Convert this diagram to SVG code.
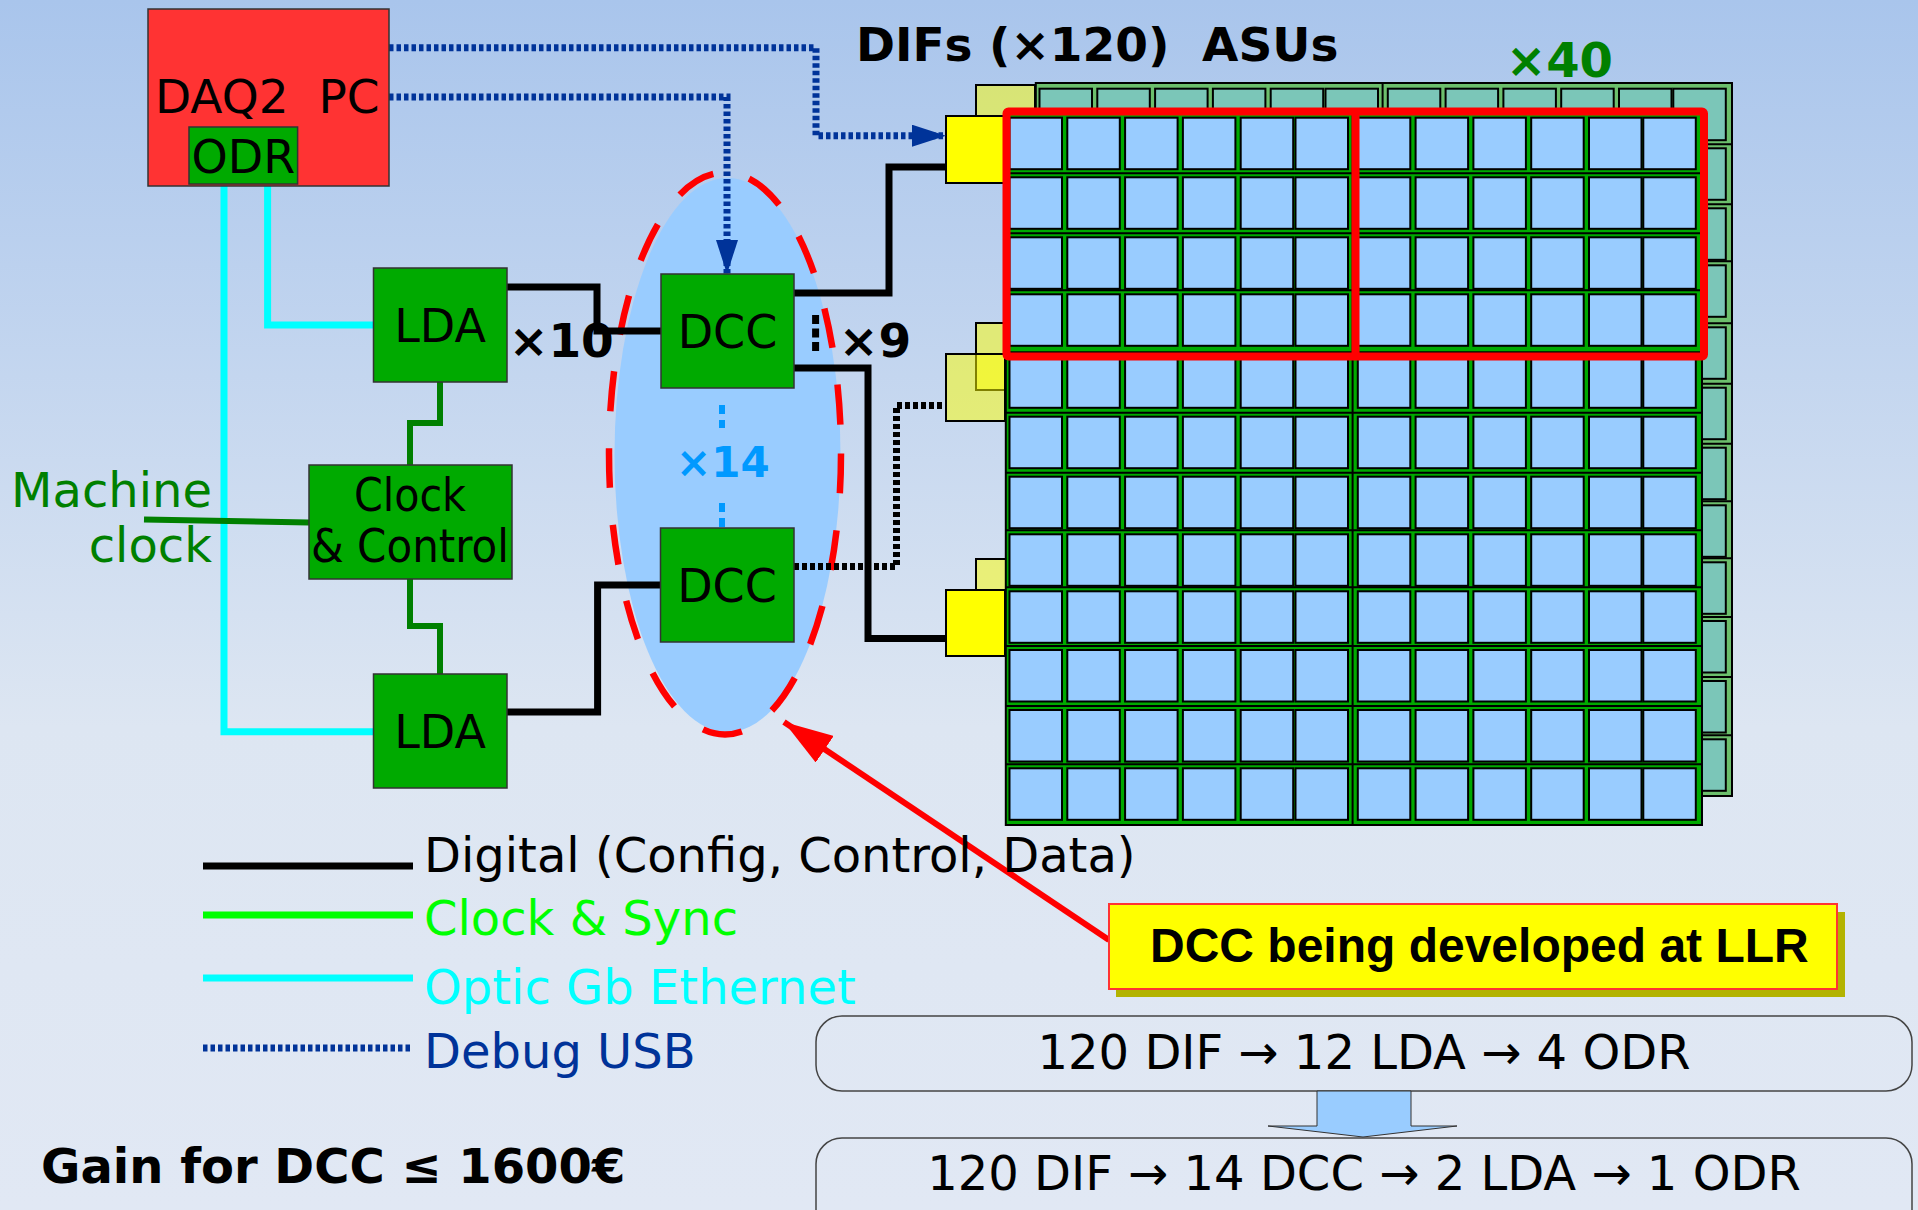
<svg xmlns="http://www.w3.org/2000/svg" xmlns:xlink="http://www.w3.org/1999/xlink" width="1918" height="1210" viewBox="0 0 1918 1210">
<style>
.t{font-family:"DejaVu Sans",sans-serif}
.b{font-weight:bold}
.node{fill:#00aa00;stroke:#333;stroke-width:1.5}
.lbl{font-family:"DejaVu Sans",sans-serif;font-size:46px;fill:#000;text-anchor:middle}
.dig{fill:none;stroke:#000;stroke-width:7;stroke-linejoin:miter}
.opt{fill:none;stroke:#00ffff;stroke-width:7}
.clk{fill:none;stroke:#008000;stroke-width:6}
.usb{fill:none;stroke:#003399;stroke-width:7;stroke-dasharray:4.5 3}
.dot{fill:none;stroke:#000;stroke-width:7;stroke-dasharray:5 3}
.dif{stroke:#000;stroke-width:2}
.cell{stroke:#000;stroke-width:2}
.ml{stroke:#000;stroke-width:2;fill:none}
</style>
<defs>
<linearGradient id="bg" x1="0" y1="0" x2="0" y2="1">
<stop offset="0" stop-color="#a9c5ec"/>
<stop offset="0.6" stop-color="#dde6f2"/>
<stop offset="1" stop-color="#e1e8f4"/>
</linearGradient>
<marker id="ab" markerUnits="userSpaceOnUse" markerWidth="34" markerHeight="22" refX="34" refY="11" orient="auto" viewBox="0 0 34 22">
<path d="M0,0 L34,11 L0,22 z" fill="#003399"/>
</marker>
<marker id="ar" markerUnits="userSpaceOnUse" markerWidth="49" markerHeight="32" refX="49" refY="16" orient="auto" viewBox="0 0 49 32">
<path d="M0,0 L49,16 L0,32 z" fill="#ff0000"/>
</marker>
<g id="row">
<rect class="cell" x="1009.5" y="0" width="52.5" height="51.5"/>
<rect class="cell" x="1067.3" y="0" width="52.5" height="51.5"/>
<rect class="cell" x="1125.1" y="0" width="52.5" height="51.5"/>
<rect class="cell" x="1182.9" y="0" width="52.5" height="51.5"/>
<rect class="cell" x="1240.7" y="0" width="52.5" height="51.5"/>
<rect class="cell" x="1295.5" y="0" width="52.5" height="51.5"/>
<rect class="cell" x="1357.8" y="0" width="52.5" height="51.5"/>
<rect class="cell" x="1415.6" y="0" width="52.5" height="51.5"/>
<rect class="cell" x="1473.4" y="0" width="52.5" height="51.5"/>
<rect class="cell" x="1531.2" y="0" width="52.5" height="51.5"/>
<rect class="cell" x="1589" y="0" width="52.5" height="51.5"/>
<rect class="cell" x="1643.3" y="0" width="52.5" height="51.5"/>
</g>
<g id="cells">
<use xlink:href="#row" y="117.7"/>
<use xlink:href="#row" y="177.3"/>
<use xlink:href="#row" y="237.3"/>
<use xlink:href="#row" y="294.3"/>
<use xlink:href="#row" y="356.3"/>
<use xlink:href="#row" y="416.7"/>
<use xlink:href="#row" y="476.7"/>
<use xlink:href="#row" y="534.3"/>
<use xlink:href="#row" y="591.3"/>
<use xlink:href="#row" y="650"/>
<use xlink:href="#row" y="710"/>
<use xlink:href="#row" y="768.3"/>
</g>
<path id="mlines" class="ml" d="M1005.8,173.3H1702M1005.8,233.3H1702M1005.8,290.3H1702M1005.8,352.3H1702M1005.8,412.7H1702M1005.8,472.7H1702M1005.8,530.3H1702M1005.8,587.3H1702M1005.8,646H1702M1005.8,706H1702M1005.8,764.3H1702M1352.6,112V825"/>
</defs>

<rect x="0" y="0" width="1918" height="1210" fill="url(#bg)"/>

<g id="detector">
<g id="back-difs" fill="#ffff00" fill-opacity="0.5">
<rect class="dif" x="976" y="85" width="59" height="67"/>
<rect class="dif" x="976" y="323" width="59" height="67"/>
<rect class="dif" x="976" y="559" width="59" height="66"/>
</g>
<g id="back-layer" transform="translate(30,-29)">
<rect x="1005.8" y="112" width="696.2" height="713" fill="#6cbf6c" stroke="#000" stroke-width="2"/>
<use xlink:href="#mlines"/>
<use xlink:href="#cells" fill="#7bc6b8"/>
</g>
<g id="front-difs">
<rect class="dif" x="946" y="116" width="59" height="67" fill="#ffff00"/>
<rect class="dif" x="946" y="354" width="59" height="67" fill="#ffff00" fill-opacity="0.5"/>
<rect class="dif" x="946" y="590" width="59" height="66" fill="#ffff00"/>
</g>
<g id="front-layer">
<rect x="1005.8" y="112" width="696.2" height="713" fill="#00aa00" stroke="#000" stroke-width="2"/>
<use xlink:href="#mlines"/>
<use xlink:href="#cells" fill="#99ccff"/>
</g>
<g id="highlight" fill="none" stroke="#ff0000" stroke-width="8" stroke-linejoin="round">
<rect x="1006.5" y="111.5" width="697.5" height="245" rx="2"/>
<path d="M1355.5,111.5V356.5"/>
</g>
<text class="t b" x="856" y="61" font-size="47" xml:space="preserve">DIFs (×120)  ASUs</text>
<text class="t b" x="1506" y="77" font-size="48" fill="#008000">×40</text>
</g>

<g id="dcc-group">
<ellipse cx="727.5" cy="455" rx="113" ry="277" fill="#99ccff"/>
<ellipse cx="725" cy="453.5" rx="116" ry="281" fill="none" stroke="#ff0000" stroke-width="6.5" stroke-dasharray="40 37"/>
</g>

<g id="connectors">
<path class="opt" d="M267.6,186V325H373.5"/>
<path class="opt" d="M224,186V731.7H373.5"/>
<path class="dig" d="M507,287H597V331H661"/>
<path class="dig" d="M507,712H597.6V585H660.5"/>
<path class="dig" d="M794,293H889V167H946"/>
<path class="dig" d="M794,368H868V638.5H946"/>
<path class="clk" d="M440,382V423H410V465"/>
<path class="clk" d="M410,579V626H440V674"/>
<path class="clk" stroke-width="7" d="M144,519.5L309,522.5"/>
<path class="usb" d="M389,47.7H816V135.7H946" marker-end="url(#ab)"/>
<path class="usb" d="M389,97H727V274" marker-end="url(#ab)"/>
<path class="dot" d="M794,566.5H896.5V405.5H946"/>
<path fill="none" stroke="#000" stroke-width="7" stroke-dasharray="9 4.5" d="M815.6,315V352"/>
<path fill="none" stroke="#0099ff" stroke-width="6" stroke-dasharray="9 6" d="M722,405V428M722,503V527"/>
<path fill="none" stroke="#ff0000" stroke-width="6" d="M1109,940L784,722" marker-end="url(#ar)"/>
</g>

<g id="daq2pc">
<rect x="148" y="9" width="241" height="177" fill="#ff3333" stroke="#333" stroke-width="1.5"/>
<text class="t" x="155" y="113" font-size="47" xml:space="preserve">DAQ2  PC</text>
</g>
<g id="odr">
<rect class="node" x="189" y="127" width="108.6" height="57"/>
<text class="lbl" x="243.3" y="173">ODR</text>
</g>
<g id="lda1">
<rect class="node" x="373.5" y="268" width="133.5" height="114"/>
<text class="lbl" x="440" y="342">LDA</text>
</g>
<g id="lda2">
<rect class="node" x="373.5" y="674" width="133.5" height="114"/>
<text class="lbl" x="440" y="748">LDA</text>
</g>
<g id="dcc1">
<rect class="node" x="661" y="274" width="133" height="114"/>
<text class="lbl" x="727.5" y="348" font-size="47.5">DCC</text>
</g>
<g id="dcc2">
<rect class="node" x="660.5" y="528" width="133.5" height="114"/>
<text class="lbl" x="727" y="602" font-size="47.5">DCC</text>
</g>
<g id="clock-control">
<rect class="node" x="309" y="465" width="203" height="114"/>
<text class="lbl" x="410" y="511" font-size="43" textLength="112" lengthAdjust="spacingAndGlyphs">Clock</text>
<text class="lbl" x="410" y="562" font-size="43" textLength="198" lengthAdjust="spacingAndGlyphs">&amp; Control</text>
</g>

<g id="labels">
<text class="t" x="212" y="507" font-size="48" fill="#008000" text-anchor="end">Machine</text>
<text class="t" x="212" y="562" font-size="48" fill="#008000" text-anchor="end">clock</text>
<text class="t b" x="509" y="357" font-size="47">×10</text>
<text class="t b" x="839" y="357" font-size="47">×9</text>
<text class="t b" x="676" y="477" font-size="42" fill="#0099ff">×14</text>
</g>

<g id="legend">
<path d="M203,866H413" stroke="#000" stroke-width="7"/>
<path d="M203,915H413" stroke="#00ff00" stroke-width="7"/>
<path d="M203,978H413" stroke="#00ffff" stroke-width="7"/>
<path d="M203,1048H413" class="usb"/>
<text class="t" x="424" y="872" font-size="48" fill="#000">Digital (Config, Control, Data)</text>
<text class="t" x="424" y="935" font-size="48" fill="#00ff00">Clock &amp; Sync</text>
<text class="t" x="424" y="1004" font-size="48" fill="#00ffff">Optic Gb Ethernet</text>
<text class="t" x="424" y="1068" font-size="48" fill="#003399">Debug USB</text>
</g>

<text class="t b" x="41" y="1183" font-size="48">Gain for DCC ≤ 1600€</text>

<g id="callout">
<rect x="1116" y="912" width="729" height="85" fill="#b3b300"/>
<rect x="1109" y="904" width="728" height="85" fill="#ffff00" stroke="#ff3333" stroke-width="2"/>
<text x="1150" y="962" font-family="'Liberation Sans',Arial,sans-serif" font-weight="bold" font-size="48">DCC being developed at LLR</text>
</g>

<g id="summary">
<rect x="816" y="1016" width="1096" height="75" rx="26" fill="none" stroke="#444" stroke-width="1.5"/>
<text class="t" x="1364" y="1069" font-size="48" text-anchor="middle">120 DIF → 12 LDA → 4 ODR</text>
<rect x="816" y="1138" width="1096" height="110" rx="26" fill="none" stroke="#444" stroke-width="1.5"/>
<text class="t" x="1364" y="1190" font-size="48" text-anchor="middle">120 DIF → 14 DCC → 2 LDA → 1 ODR</text>
<polygon points="1317,1091 1411,1091 1411,1126 1457,1126 1363,1137 1268,1126 1317,1126" fill="#99ccff" stroke="#333" stroke-width="1"/>
</g>
</svg>
